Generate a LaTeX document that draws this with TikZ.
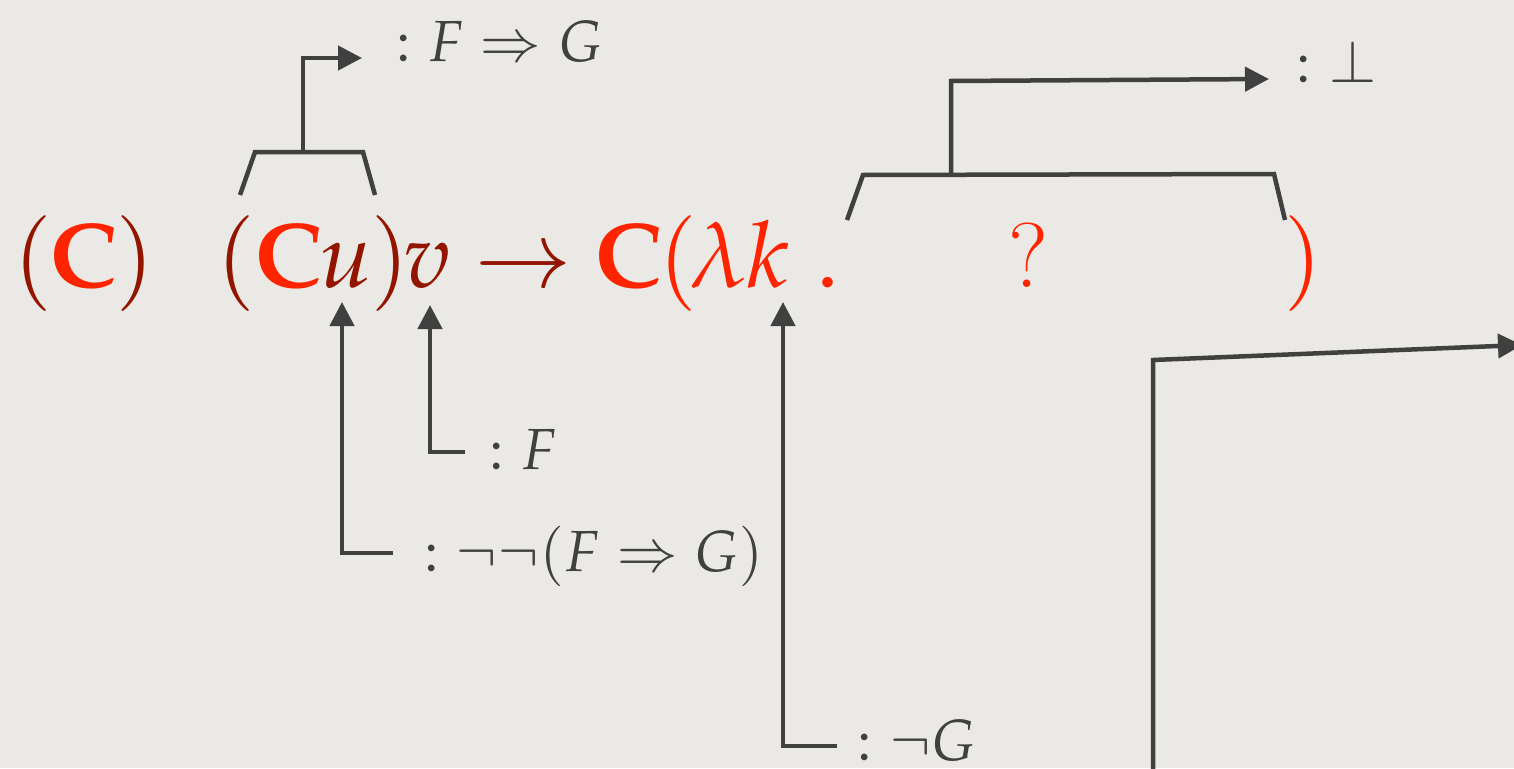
\documentclass[tikz,border=0pt]{standalone}
\usepackage{mathpazo}
\usetikzlibrary{arrows.meta}
\definecolor{paper}{HTML}{EBE9E5}
\definecolor{ink}{HTML}{404040}
\definecolor{bred}{HTML}{FF2400}
\definecolor{dred}{HTML}{931500}
\tikzset{
  glyph/.style={inner sep=0pt, anchor=base, font=\fontsize{92}{100}\selectfont},
  lbl/.style={inner sep=0pt, anchor=base west, text=ink, font=\fontsize{58}{64}\selectfont},
  conn/.style={draw=ink, line width=4.5pt, line join=miter},
  arr/.style={conn, -{Triangle[length=24pt,width=24pt]}},
}
\begin{document}
\begin{tikzpicture}[x=1pt,y=-1pt]
\useasboundingbox (0,0) rectangle (1514,768);
\clip (0,0) rectangle (1514,768);
\fill[paper] (0,0) rectangle (1514,768);
% main row
\node[glyph, text=dred] (lp1) at (33.5,287) {$($};
\node[glyph, text=bred] (C1) at (84,287) {$\mathbf{C}$};
\node[glyph, text=dred] (rp1) at (135,287) {$)$};
\node[glyph, text=dred] (lp2) at (236.5,287) {$($};
\node[glyph, text=bred] (C2) at (289,287) {$\mathbf{C}$};
\node[glyph, text=dred] (u) at (346,287) {$u$};
\node[glyph, text=dred] (rp2) at (390,287) {$)$};
\node[glyph, text=dred] (v) at (427,287) {$v$};
\node[glyph, text=dred] (to) at (523,287) {$\rightarrow$};
\node[glyph, text=bred] (C3) at (629,287) {$\mathbf{C}$};
\node[glyph, text=bred] (lp3) at (678,287) {$($};
\node[glyph, text=bred] (lam) at (718,287) {$\lambda$};
\node[glyph, text=bred] (k) at (768,287) {$k$};
\node[glyph, text=bred] (dot) at (828,287) {$.$};
\node[glyph, text=bred] (q) at (1028,287) {?};
\node[glyph, text=bred] (rp3) at (1303,287) {$)$};
% labels
\node[lbl] (lblFG) at (396,61) {$:F\Rightarrow G$};
\node[lbl] (lblBot) at (1296,82) {$:\bot$};
\node[lbl] (lblF) at (489,469) {$:F$};
\node[lbl] (lblNN) at (424,571) {$:\neg\neg(F\Rightarrow G)$};
\node[lbl] (lblNG) at (857,760) {$:\neg G$};
% brackets
\coordinate (stemA) at (303,152);
\draw[conn] (240,195) -- (255,152) -- (363,152) -- (375,195);
\draw[arr] (stemA) |- ([xshift=-34pt,yshift=3pt]lblFG.base west);
\coordinate (stemB) at (951,175);
\draw[conn] (847,220) -- (863,175) -- (1274,174) -- (1285,220);
\draw[arr] (stemB) -- (951,81) -- ([xshift=-27pt,yshift=3pt]lblBot.base west);
% arrows from below
\draw[arr] ([xshift=-31pt,yshift=18pt]lblNN.base west) -| ([xshift=-4pt,yshift=-15pt]u.base);
\draw[arr] ([xshift=-24pt,yshift=17pt]lblF.base west) -| ([xshift=3pt,yshift=-18pt]v.base);
\draw[arr] ([xshift=-20pt,yshift=14pt]lblNG.base west) -| ([xshift=15pt,yshift=-15pt]k.base);
% big arrow
\coordinate (farB) at (1153,790);
\coordinate (farR) at (1522,345);
\draw[arr] (farB) -- (1153,360) -- (farR);
\end{tikzpicture}
\end{document}
